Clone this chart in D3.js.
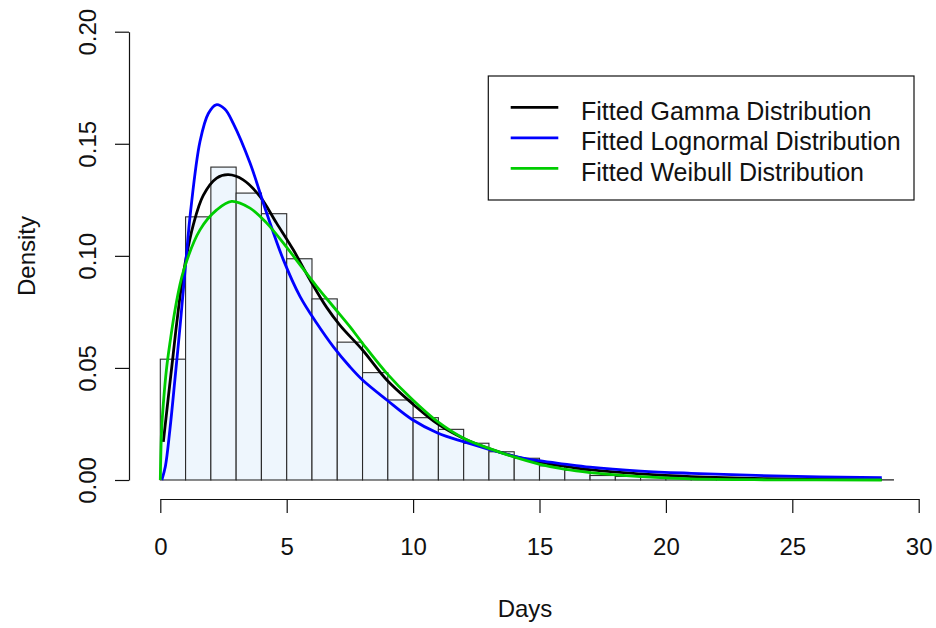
<!DOCTYPE html>
<html>
<head>
<meta charset="utf-8">
<script src="https://cdn.jsdelivr.net/npm/d3@7"></script>
<style>
    body { margin: 0; background: #fff; }
    text { font-family: "Liberation Sans", Arial, sans-serif; fill: #111; }
</style>
</head>
<body>
<div class="data_figure"></div>
<script>
// histogram (bin width 1 day, starting at 0)
const binStart = [0, 1, 2, 3, 4, 5, 6, 7, 8, 9, 10, 11, 12, 13, 14, 15, 16, 17, 18, 19, 20, 21, 22, 23, 24, 25, 26, 27, 28];
const binDensity = [0.0539, 0.1174, 0.1396, 0.1280, 0.1188, 0.0987, 0.0808, 0.0615, 0.0479, 0.0357,
                    0.0278, 0.0226, 0.0164, 0.0126, 0.0097, 0.0063, 0.0044, 0.0020, 0.0016, 0.0012,
                    0.0007, 0.0005, 0.0004, 0.0003, 0.0002, 0.0002, 0.0001, 0.0001, 0.0001];

// fitted curves
const gammaDays = [0.12, 0.32, 0.51, 0.65, 0.91, 1.31, 1.70, 2.23, 2.69, 3.28, 3.94, 4.60, 5.26, 5.92, 6.58, 7.11, 8.0, 8.96, 9.96, 10.97, 12, 13, 14, 15, 17, 19, 21, 24, 28.54];
const gammaDens = [0.017, 0.0372, 0.056, 0.0700, 0.0920, 0.1140, 0.1270, 0.1347, 0.1362, 0.1339, 0.1265, 0.1146, 0.1027, 0.0893, 0.077, 0.069, 0.058, 0.0446, 0.0342, 0.0250, 0.0185, 0.0140, 0.0106, 0.0080, 0.0046, 0.0027, 0.0015, 0.0006, 0.0002];

const lnormDays = [0.06, 0.2, 0.38, 0.58, 0.81, 1.0, 1.2, 1.57, 1.9, 2.21, 2.55, 2.89, 3.55, 4.21, 4.87, 5.53, 6.19, 6.84, 7.5, 8.0, 8.96, 9.96, 10.97, 11.99, 13, 13.96, 14.98, 15.98, 17, 19, 21, 24.25, 28.54];
const lnormDens = [0, 0.006, 0.0225, 0.045, 0.072, 0.096, 0.12, 0.151, 0.1635, 0.1674, 0.1655, 0.159, 0.1414, 0.119, 0.0982, 0.0818, 0.0699, 0.0595, 0.0505, 0.0446, 0.0357, 0.0270, 0.0210, 0.0171, 0.0137, 0.0107, 0.0086, 0.0071, 0.0057, 0.0040, 0.0030, 0.0018, 0.0010];

const weibDays = [0, 0.05, 0.12, 0.25, 0.38, 0.6, 0.91, 1.57, 2.23, 2.82, 3.55, 4.21, 4.87, 5.53, 6.19, 6.84, 7.5, 8.0, 8.96, 9.96, 10.97, 12, 13, 13.96, 14.98, 15.98, 17, 19, 21, 24, 28.54];
const weibDens = [0, 0.022, 0.034, 0.050, 0.061, 0.077, 0.0930, 0.1116, 0.1205, 0.1243, 0.1213, 0.1146, 0.1057, 0.0960, 0.0863, 0.0774, 0.0684, 0.061, 0.0476, 0.036, 0.026, 0.0186, 0.0141, 0.0104, 0.0071, 0.0048, 0.0033, 0.0015, 0.0005, 0.0001, 0];

const xTicks = [0, 5, 10, 15, 20, 25, 30];
const yTicks = [0, 0.05, 0.10, 0.15, 0.20];
const legendLabels = ["Fitted Gamma Distribution", "Fitted Lognormal Distribution", "Fitted Weibull Distribution"];
const legendColors = ["#000000", "#0000ff", "#00cd00"];

const widthMax = 936;
const heightMax = 628;

const svg = d3.select(".data_figure")
              .append("svg")
              .attr("width", widthMax)
              .attr("height", heightMax)

const x = d3.scaleLinear().domain([0, 30]).range([160.3, 918.7]);
const y = d3.scaleLinear().domain([0, 0.2]).range([480, 31.7]);

// bars
svg.append("g")
    .attr("id", "bars")
    .selectAll("rect")
    .data(binStart)
    .enter()
        .append("rect")
        .attr("x", (d) => x(d))
        .attr("y", (d, i) => y(binDensity[i]))
        .attr("width", (d) => x(d + 1) - x(d))
        .attr("height", (d, i) => y(0) - y(binDensity[i]))
        .attr("fill", "#eef6fd")
        .attr("stroke", "#2a2a2a")
        .attr("stroke-width", 1.1)

// curves
const line = d3.line()
               .x((d) => x(d[0]))
               .y((d) => y(d[1]))
               .curve(d3.curveCatmullRom.alpha(0.5))

const curves = [
    d3.zip(gammaDays, gammaDens),
    d3.zip(lnormDays, lnormDens),
    d3.zip(weibDays, weibDens),
];
svg.append("g")
    .attr("id", "curves")
    .selectAll("path")
    .data(curves)
    .enter()
        .append("path")
        .attr("d", line)
        .attr("fill", "none")
        .attr("stroke", (d, i) => legendColors[i])
        .attr("stroke-width", 2.8)
        .attr("stroke-linejoin", "round")

// x axis
const xAxis = svg.append("g")
                 .attr("transform", "translate(0, 499)")
                 .call(d3.axisBottom(x).tickValues(xTicks).tickSize(14).tickSizeOuter(0).tickFormat(d3.format("d")))
xAxis.select(".domain").attr("stroke", "#111").attr("stroke-width", 1.2)
xAxis.selectAll(".tick line").attr("stroke", "#111").attr("stroke-width", 1.2)
xAxis.selectAll(".tick text")
     .attr("y", 56)
     .attr("dy", null)
     .style("font-size", "24px")
     .attr("fill", "#111")

// y axis
const yAxis = svg.append("g")
                 .attr("transform", "translate(129, 0)")
                 .call(d3.axisLeft(y).tickValues(yTicks).tickSize(14).tickSizeOuter(0).tickFormat(d3.format(".2f")))
yAxis.select(".domain").attr("stroke", "#111").attr("stroke-width", 1.2)
yAxis.selectAll(".tick line").attr("stroke", "#111").attr("stroke-width", 1.2)
yAxis.selectAll(".tick text")
     .attr("x", null)
     .attr("dy", null)
     .attr("transform", "translate(-33, 0) rotate(-90)")
     .attr("text-anchor", "middle")
     .style("font-size", "24px")
     .attr("fill", "#111")

// axis titles
svg.append("text")
    .text("Days")
    .attr("x", 525)
    .attr("y", 617)
    .attr("text-anchor", "middle")
    .style("font-size", "24px")
svg.append("text")
    .text("Density")
    .attr("transform", "translate(35, 256) rotate(-90)")
    .attr("text-anchor", "middle")
    .style("font-size", "24px")

// legend
const legend = svg.append("g").attr("id", "legend")
legend.append("rect")
    .attr("x", 488.3)
    .attr("y", 76)
    .attr("width", 425.7)
    .attr("height", 124)
    .attr("fill", "#fff")
    .attr("stroke", "#111")
    .attr("stroke-width", 1.2)
const rowY = d3.scalePoint().domain(legendLabels).range([107.3, 168.3]);
legend.selectAll("line")
    .data(legendLabels)
    .enter()
        .append("line")
        .attr("x1", 510.7)
        .attr("x2", 558.3)
        .attr("y1", (d) => rowY(d))
        .attr("y2", (d) => rowY(d))
        .attr("stroke", (d, i) => legendColors[i])
        .attr("stroke-width", 2.8)
legend.selectAll("text")
    .data(legendLabels)
    .enter()
        .append("text")
        .text((d) => d)
        .attr("x", 581)
        .attr("y", (d) => rowY(d) + 12.5)
        .style("font-size", "25px")
</script>
</body>
</html>
